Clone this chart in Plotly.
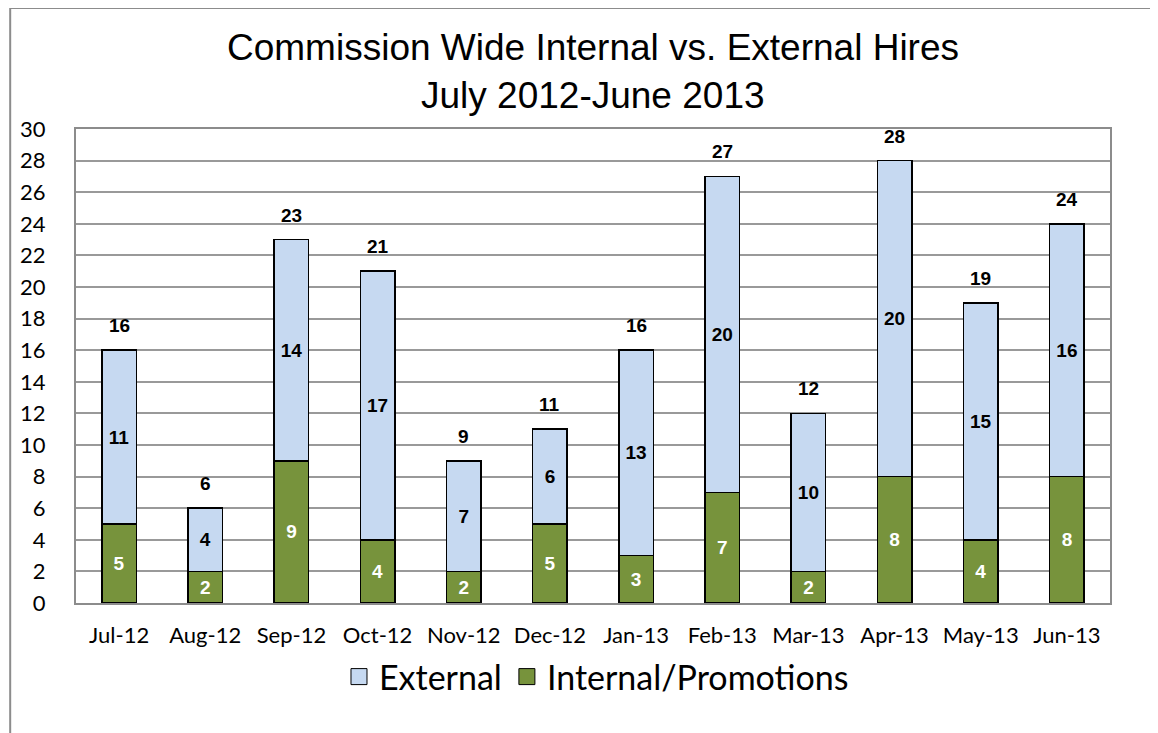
import plotly.graph_objects as go

months = ["Jul-12", "Aug-12", "Sep-12", "Oct-12", "Nov-12", "Dec-12",
          "Jan-13", "Feb-13", "Mar-13", "Apr-13", "May-13", "Jun-13"]
internal = [5, 2, 9, 4, 2, 5, 3, 7, 2, 8, 4, 8]
external = [11, 4, 14, 17, 7, 6, 13, 20, 10, 20, 15, 16]
totals = [i + e for i, e in zip(internal, external)]
y_ticks = list(range(0, 31, 2))
title_lines = ["Commission Wide Internal vs. External Hires", "July 2012-June 2013"]

# page has an 8px body margin; figure sized to fill the remaining window
W, H = 1150, 725
ML, MR, MT, MB = 65, 48, 121, 130
PW, PH = W - ML - MR, H - MT - MB


def px_x(x):
    return (x - ML) / PW


def px_y(y):
    return (H - MB - y) / PH


label_font = dict(family="Liberation Sans, Arial, sans-serif", size=19)
BLUE, GREEN = "#C6D9F1", "#77933C"

fig = go.Figure()
fig.add_trace(go.Bar(
    x=months, y=internal, name="Internal/Promotions", showlegend=False,
    marker=dict(color=GREEN, line=dict(color="#000000", width=1.5)),
    text=internal, textposition="inside", insidetextanchor="middle", textangle=0,
    texttemplate="<b>%{text}</b>",
    insidetextfont=dict(color="white", **label_font),
))
fig.add_trace(go.Bar(
    x=months, y=external, name="External", showlegend=False,
    marker=dict(color=BLUE, line=dict(color="#000000", width=1.5)),
    text=external, textposition="inside", insidetextanchor="middle", textangle=0,
    texttemplate="<b>%{text}</b>",
    insidetextfont=dict(color="black", **label_font),
))
# legend entries with larger square swatches
for name, col in [("External", BLUE), ("Internal/Promotions", GREEN)]:
    fig.add_trace(go.Scatter(
        x=[None], y=[None], mode="markers", name=name,
        marker=dict(symbol="square", size=20, color=col, line=dict(color="#000000", width=1)),
    ))

annotations = []
for m, t in zip(months, totals):
    annotations.append(dict(
        x=m, y=t, xref="x", yref="y", text=f"<b>{t}</b>", showarrow=False,
        yanchor="bottom", yshift=12, font=dict(color="black", **label_font),
    ))
for line, yc in zip(title_lines, [40, 87]):
    annotations.append(dict(
        x=px_x(583), y=px_y(yc), xref="paper", yref="paper", text=line,
        showarrow=False, xanchor="center", yanchor="middle",
        font=dict(family="Liberation Sans, Arial, sans-serif", size=37, color="black"),
    ))

gray = "#8C8C8C"
shapes = [
    dict(type="line", xref="paper", yref="paper",
         x0=px_x(-1), x1=px_x(-1), y0=px_y(0), y1=px_y(740),
         line=dict(color=gray, width=2)),
    dict(type="line", xref="paper", yref="paper",
         x0=px_x(-1), x1=px_x(1165), y0=px_y(0), y1=px_y(0),
         line=dict(color=gray, width=2)),
]

fig.update_layout(
    width=W, height=H,
    barmode="stack", bargap=0.6,
    plot_bgcolor="white", paper_bgcolor="white",
    margin=dict(l=ML, r=MR, t=MT, b=MB),
    xaxis=dict(
        showline=True, linecolor=gray, linewidth=2, mirror=True,
        tickfont=dict(family="Lato, Open Sans, sans-serif", size=22, color="black"),
        ticks="", ticklabelstandoff=12,
    ),
    yaxis=dict(
        range=[0, 30], tickvals=y_ticks, showgrid=True, gridcolor="#999999", gridwidth=1.5,
        showline=True, linecolor=gray, linewidth=2, mirror=True, zeroline=False,
        tickfont=dict(family="Lato, Open Sans, sans-serif", size=22, color="black"),
        ticks="", ticklabelstandoff=24,
    ),
    legend=dict(
        orientation="h", x=px_x(587), xanchor="center", y=px_y(669), yanchor="middle",
        traceorder="normal",
        font=dict(family="Lato, Open Sans, sans-serif", size=34, color="black"),
        itemwidth=30,
    ),
    annotations=annotations,
    shapes=shapes,
)

fig.write_html("out.html")
